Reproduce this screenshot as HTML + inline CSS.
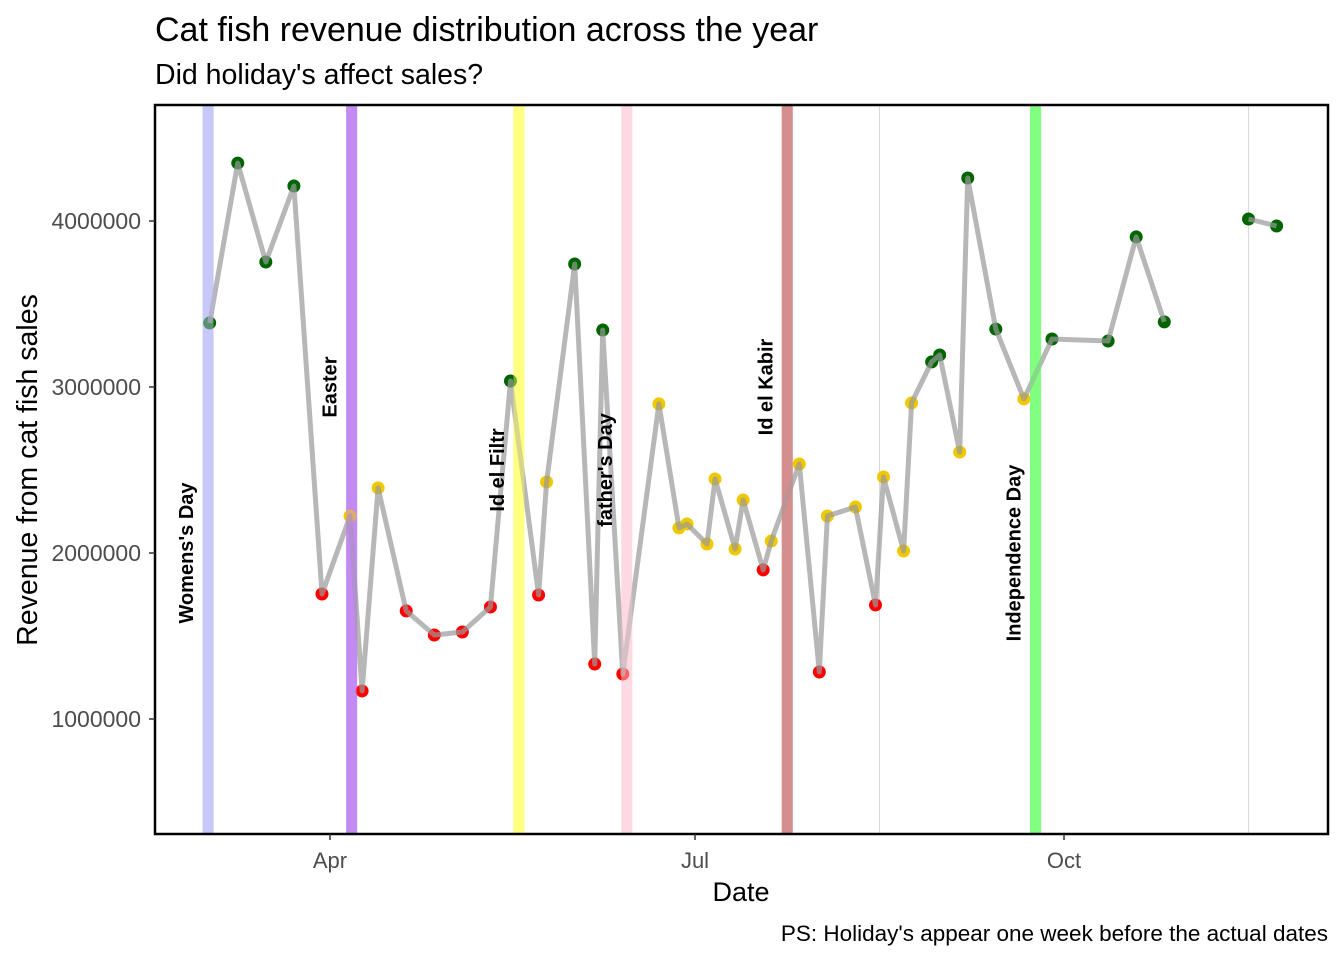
<!DOCTYPE html>
<html><head><meta charset="utf-8"><style>
body{margin:0;background:#fff;}
svg text{font-family:"Liberation Sans",sans-serif;}
</style></head><body>
<svg id="chart" width="1344" height="960" xmlns="http://www.w3.org/2000/svg">
<rect width="1344" height="960" fill="#fff"/>
<text x="155" y="41" font-size="34" fill="#000">Cat fish revenue distribution across the year</text>
<text x="155" y="84" font-size="28.5" fill="#000">Did holiday's affect sales?</text>
<g id="grid"></g>
<g id="bands"></g>
<g id="series"></g>
<g id="labels"></g>
<rect x="155" y="105" width="1173" height="729" fill="none" stroke="#000" stroke-width="2.5"/>
<g id="axes"></g>
<text x="741" y="901" font-size="27" text-anchor="middle" fill="#000">Date</text>
<text transform="translate(37,470) rotate(-90)" font-size="28.5" text-anchor="middle" fill="#000">Revenue from cat fish sales</text>
<text x="1328" y="941" font-size="22.5" text-anchor="end" fill="#000">PS: Holiday's appear one week before the actual dates</text>
</svg>
<script>
// day of year (Jan 1 = 0)
const days=[60,67,74,81,88,95,98,102,109,116,123,130,135,142,144,151,156,158,163,172,177,179,184,186,191,193,198,200,207,212,214,221,226,228,233,235,240,242,247,249,256,263,270,284,291,298,319,326];
const revenue=[3386000,4349000,3753000,4211000,1753000,2223000,1169000,2392000,1651000,1506000,1524000,1675000,3036000,1747000,2428000,3741000,1331000,3343000,1271000,2898000,2151000,2175000,2054000,2446000,2024000,2319000,1898000,2072000,2536000,1283000,2223000,2277000,1687000,2458000,2012000,2904000,3151000,3193000,2608000,4259000,3349000,2928000,3289000,3277000,3904000,3392000,4012000,3970000];
const holidayNames=["Womens's Day","Easter","Id el Filtr","father's Day","Id el Kabir","Independence Day"];
const holidayDays=[59.6,95.4,137.1,164,204,265.9];
const holidayLabelValues=[2000000,3000000,2500000,2500000,3000000,2000000];
const holidayColors=["#c8c8f8","#c48af2","#ffff80","#ffd9e2","#d48e8e","#80ff80"];
const yTicks=[1000000,2000000,3000000,4000000];
const xTickDays=[90,181,273];
const xTickLabels=["Apr","Jul","Oct"];
const minorDays=[227,319];

const NS="http://www.w3.org/2000/svg";
const X=d=>330+(d-90)*4.011;
const Y=v=>221+(4000000-v)/1000000*166;
function mk(tag,attrs,parent){const e=document.createElementNS(NS,tag);for(const k in attrs)e.setAttribute(k,attrs[k]);document.getElementById(parent).appendChild(e);return e;}

minorDays.forEach(d=>{const l=mk('line',{x1:X(d),x2:X(d),y1:105,y2:834,stroke:'#d9d9d9','stroke-width':1},'grid');

});

holidayDays.forEach((d,i)=>{const r=mk('rect',{x:X(d)-5.5,y:105,width:11,height:729,fill:holidayColors[i]},'bands');

});

days.forEach((d,i)=>{const v=revenue[i];const c=v>3000000?'#006400':(v<2000000?'#ff0000':'#f0c800');
const p=mk('circle',{cx:X(d),cy:Y(v),r:6.5,fill:c},'series');

});
let path='';
days.forEach((d,i)=>{const gap=i>0&&d-days[i-1]>15;path+=(i===0||gap?'M':'L')+X(d).toFixed(1)+','+Y(revenue[i]).toFixed(1);});
const ln=mk('path',{d:path,fill:'none',stroke:'#999','stroke-width':5,'stroke-linejoin':'round',opacity:0.7},'series');


holidayDays.forEach((d,i)=>{const r=mk('rect',{x:X(d)-5.5,y:105,width:11,height:729,fill:holidayColors[i],opacity:0.45},'series');

});

holidayNames.forEach((n,i)=>{const x=X(holidayDays[i])-15,y=Y(holidayLabelValues[i]);
const t=mk('text',{transform:`translate(${x},${y}) rotate(-90)`,'font-size':20,'font-weight':'bold','text-anchor':'middle',fill:'#000'},'labels');
t.textContent=n;

});

yTicks.forEach(v=>{const t=mk('text',{x:141,y:Y(v)+8,'font-size':23,'text-anchor':'end',fill:'#4d4d4d'},'axes');t.textContent=String(v);


const k=mk('line',{x1:149,x2:155,y1:Y(v),y2:Y(v),stroke:'#333','stroke-width':1.5},'axes');

});
xTickDays.forEach((d,i)=>{const t=mk('text',{x:X(d),y:868,'font-size':22,'text-anchor':'middle',fill:'#4d4d4d'},'axes');t.textContent=xTickLabels[i];


const k=mk('line',{x1:X(d),x2:X(d),y1:834,y2:840,stroke:'#333','stroke-width':1.5},'axes');

});
</script>
</body></html>
